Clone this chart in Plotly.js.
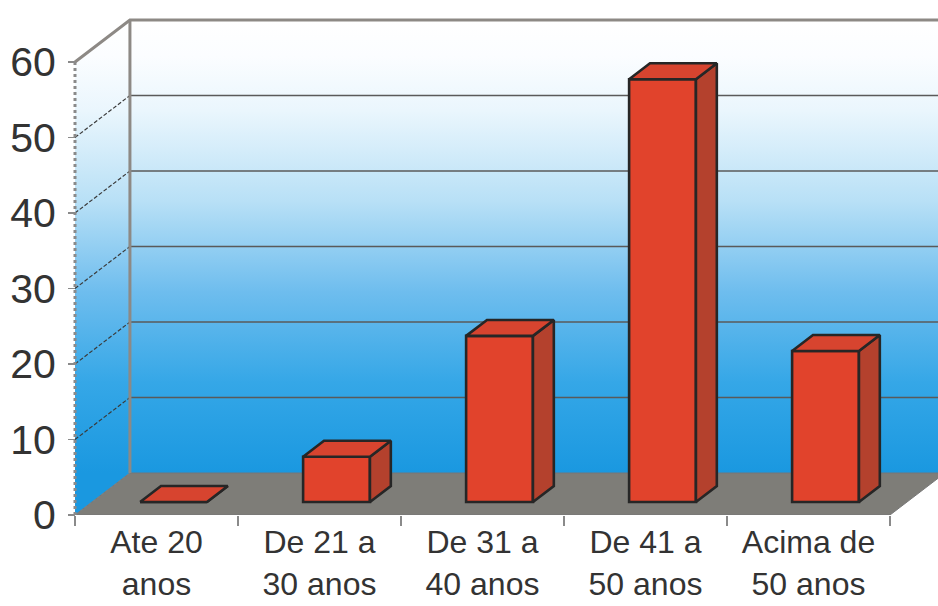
<!DOCTYPE html>
<html>
<head>
<meta charset="utf-8">
<script src="https://cdn.plot.ly/plotly-3.0.1.min.js"></script>
<style>html,body{margin:0;padding:0;background:#fff;overflow:hidden}#chart{width:938px;height:606px}</style>
</head>
<body>
<div id="chart"></div>
<script>
// ---- data ----
const categories = ["Ate 20<br>anos", "De 21 a<br>30 anos", "De 31 a<br>40 anos", "De 41 a<br>50 anos", "Acima de<br>50 anos"];
const values = [0, 6, 22, 56, 20];
const yTicks = [0, 10, 20, 30, 40, 50, 60];

// ---- 3D geometry (style constants, in axis units) ----
const N = categories.length;
const depthX = 0.337, depthY = 5.56;           // floor depth offset
const frontFrac = 0.31, barDepthFrac = 0.38;    // bar placement in depth
const barW = 0.41;
const fx = frontFrac * depthX, fy = frontFrac * depthY;
const bdx = barDepthFrac * depthX, bdy = barDepthFrac * depthY;
const yMax = yTicks[yTicks.length - 1];
const xL = -0.5, xR = N - 0.5;
const pxPerX = 163, pxPerY = 7.55;
const xRange = [xL, xL + (938 - 75) / pxPerX];
const yRange = [0, (515 - 10) / pxPerY];

const traces = [];
const gradScale = [[0, '#1a98e0'], [0.2, '#35a7e7'], [0.4, '#6ebdee'], [0.6, '#b8e0f6'], [0.8, '#eaf6fd'], [0.92, '#fbfdff'], [1, '#ffffff']];
// back wall
traces.push({x: [xL + depthX, xL + depthX, xR + depthX + 0.5, xR + depthX + 0.5, xL + depthX],
  y: [depthY, depthY + yMax, depthY + yMax, depthY, depthY], mode: 'lines', fill: 'toself', line: {width: 0},
  fillgradient: {type: 'vertical', start: depthY, stop: depthY + yMax, colorscale: gradScale}, hoverinfo: 'skip'});
// left wall
traces.push({x: [xL, xL, xL + depthX, xL + depthX, xL], y: [0, yMax, yMax + depthY, depthY, 0],
  mode: 'lines', fill: 'toself', line: {width: 0},
  fillgradient: {type: 'vertical', start: depthY, stop: depthY + yMax, colorscale: gradScale}, hoverinfo: 'skip'});
// floor
traces.push({x: [xL, xR, xR + depthX, xL + depthX, xL], y: [0, 0, depthY, depthY, 0], mode: 'lines', fill: 'toself',
  fillcolor: '#7e7d78', line: {width: 1, color: '#777'}, hoverinfo: 'skip'});
// gridlines back wall + left wall
const gx = [], gy = [], dx = [], dy = [];
yTicks.slice(1, -1).forEach(v => {
  gx.push(xL + depthX, xR + depthX + 0.5, null); gy.push(v + depthY, v + depthY, null);
  dx.push(xL, xL + depthX, null); dy.push(v, v + depthY, null);
});
traces.push({x: gx, y: gy, mode: 'lines', line: {color: '#5a5a5a', width: 1.3}, hoverinfo: 'skip'});
traces.push({x: dx, y: dy, mode: 'lines', line: {color: '#3a3a3a', width: 1.2, dash: '4px,2px'}, hoverinfo: 'skip'});
// wall borders
traces.push({x: [xL, xL + depthX, xR + depthX + 0.5, null, xL + depthX, xL + depthX],
  y: [yMax, yMax + depthY, yMax + depthY, null, yMax + depthY, depthY], mode: 'lines',
  line: {color: '#8d8985', width: 3}, hoverinfo: 'skip'});
traces.push({x: [xL, xL], y: [0, yMax], mode: 'lines', line: {color: '#8a8a8a', width: 3, dash: 'dot'}, hoverinfo: 'skip'});

// ---- bars (overlay subplot) ----
const idx = categories.map((c, i) => i);
traces.push({type: 'bar', x: idx, y: values, base: fy, width: barW, offset: -barW / 2 + fx, yaxis: 'y2',
  marker: {color: '#e1432c', line: {color: '#262626', width: 2.6}}, hoverinfo: 'skip'});
const sx = [], sy = [], tx = [], ty = [];
values.forEach((v, i) => {
  const l = i - barW / 2 + fx, r = i + barW / 2 + fx, b = fy, t = fy + v;
  sx.push(r, r + bdx, r + bdx, r, r, null); sy.push(b, b + bdy, t + bdy, t, b, null);
  tx.push(l, r, r + bdx, l + bdx, l, null); ty.push(t, t, t + bdy, t + bdy, t, null);
});
traces.push({x: sx, y: sy, yaxis: 'y2', mode: 'lines', fill: 'toself', fillcolor: '#b4412d',
  line: {color: '#262626', width: 2.6}, hoverinfo: 'skip'});
traces.push({x: tx, y: ty, yaxis: 'y2', mode: 'lines', fill: 'toself', fillcolor: '#d7442f',
  line: {color: '#262626', width: 2.6}, hoverinfo: 'skip'});

const layout = {
  width: 938, height: 606, margin: {l: 72, r: 0, t: 10, b: 91},
  paper_bgcolor: '#fff', plot_bgcolor: '#fff', showlegend: false,
  font: {family: 'Liberation Sans, Arial, sans-serif', color: '#333333'},
  xaxis: {range: [xRange[0] - 3 / pxPerX, xRange[1]], showgrid: false, zeroline: false, showline: false,
    tickvals: idx, ticktext: categories, ticks: '', tickfont: {size: 32}, ticklabelstandoff: 5,
    minor: {tickvals: [-0.5, 0.5, 1.5, 2.5, 3.5, 4.5], ticks: 'outside', ticklen: 10, tickcolor: '#8a8a8a', tickwidth: 1.5, showgrid: false}},
  yaxis: {range: yRange, showgrid: false, zeroline: false, showline: false, tickvals: yTicks,
    ticks: 'outside', ticklen: 7, tickcolor: '#8a8a8a', tickwidth: 1.5, tickfont: {size: 41},
    anchor: 'free', position: 3 / 866, ticklabelstandoff: 4},
  yaxis2: {range: yRange, overlaying: 'y', visible: false, showgrid: false, zeroline: false}
};
Plotly.newPlot('chart', traces, layout, {staticPlot: true, displayModeBar: false});
</script>
</body>
</html>
